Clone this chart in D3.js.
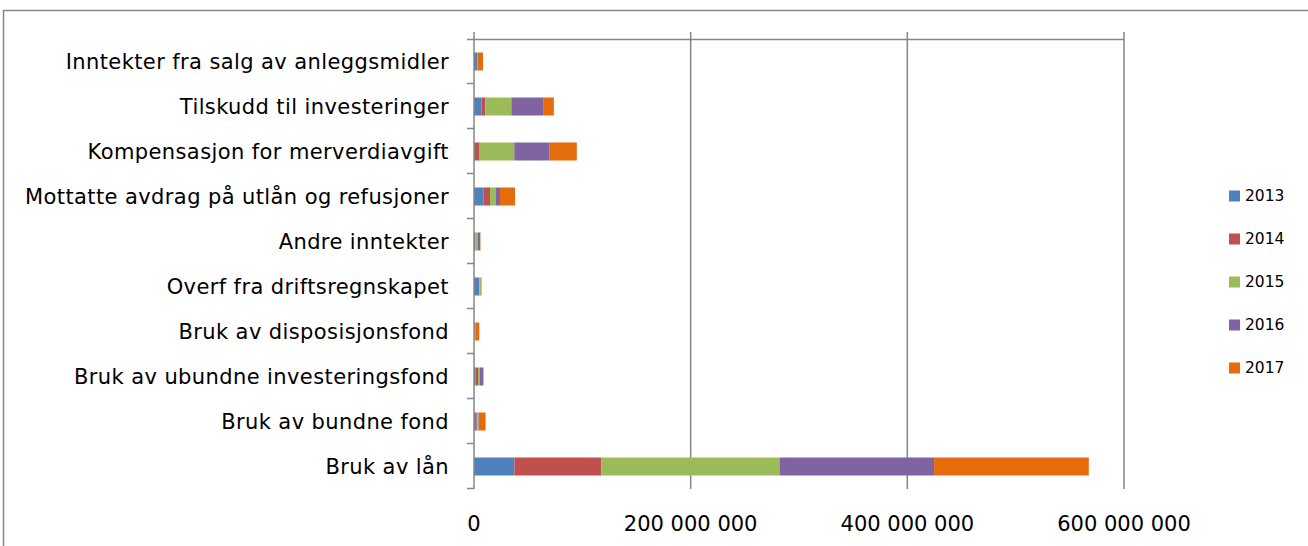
<!DOCTYPE html>
<html><head><meta charset="utf-8">
<script src="https://cdn.jsdelivr.net/npm/d3@7"></script>
<style>body{margin:0;background:#fff}svg{display:block}</style>
</head><body>
<script>
const categories = ["Inntekter fra salg av anleggsmidler","Tilskudd til investeringer","Kompensasjon for merverdiavgift","Mottatte avdrag på utlån og refusjoner","Andre inntekter","Overf fra driftsregnskapet","Bruk av disposisjonsfond","Bruk av ubundne investeringsfond","Bruk av bundne fond","Bruk av lån"];
const years = ["2013","2014","2015","2016","2017"];
const v2013 = [2800000, 6800000, 300000, 8600000, 1200000, 4600000, 300000, 1500000, 2200000, 37300000];
const v2014 = [300000, 3700000, 4900000, 6200000, 300000, 300000, 300000, 2200000, 1000000, 80100000];
const v2015 = [300000, 24000000, 32000000, 5200000, 2200000, 1500000, 300000, 1800000, 1000000, 164600000];
const v2016 = [300000, 29300000, 32700000, 4000000, 2000000, 300000, 300000, 3000000, 300000, 142700000];
const v2017 = [4600000, 9900000, 25000000, 13900000, 300000, 300000, 3700000, 300000, 6200000, 142800000];
const tickValues = [0, 200000000, 400000000, 600000000];
const colors = ["#4F81BD","#C0504D","#9BBB59","#8064A2","#E46C0A"];

const W = 1308, H = 546;
const svg = d3.select("body").append("svg").attr("width", W).attr("height", H);
const font = "'DejaVu Sans', sans-serif";

// outer border
svg.append("rect").attr("x",3.5).attr("y",10.5).attr("width",W+10).attr("height",H+10)
  .attr("fill","none").attr("stroke","#868686").attr("stroke-width",1.5);

const x = d3.scaleLinear().domain([0, 600000000]).range([474, 1124]);
const y = d3.scaleBand().domain(categories).range([39, 489]).paddingInner(0.6).paddingOuter(0.3);
const yb = d3.scaleBand().domain(categories).range([39, 489]);

const seriesVals = [v2013, v2014, v2015, v2016, v2017];
const rows = categories.map((c,i)=>{const o={cat:c}; years.forEach((yr,j)=>o[yr]=seriesVals[j][i]); return o;});
const stacked = d3.stack().keys(years)(rows);

// gridlines
const grid = svg.append("g");
tickValues.slice(1).forEach(t=>{
  grid.append("line").attr("x1",x(t)).attr("x2",x(t)).attr("y1",32).attr("y2",489)
    .attr("stroke","#868686").attr("stroke-width",1.5);
});

// top value axis line with ticks
svg.append("line").attr("x1",467).attr("x2",x(600000000)).attr("y1",39.5).attr("y2",39.5)
  .attr("stroke","#868686").attr("stroke-width",1.5);
svg.append("line").attr("x1",x(0)).attr("x2",x(0)).attr("y1",32).attr("y2",39.5)
  .attr("stroke","#868686").attr("stroke-width",1.5);

// bars
stacked.forEach((s,j)=>{
  svg.append("g").selectAll("rect").data(s).join("rect")
    .attr("x",d=>x(d[0])).attr("width",d=>Math.max(0,x(d[1])-x(d[0])))
    .attr("y",d=>y(d.data.cat)).attr("height",y.bandwidth())
    .attr("fill",colors[j]);
});

// category axis
const yAxis = svg.append("g");
yAxis.append("line").attr("x1",x(0)).attr("x2",x(0)).attr("y1",39).attr("y2",489)
  .attr("stroke","#868686").attr("stroke-width",1.5);
const bounds = categories.map(c=>yb(c)).concat([489]);
bounds.slice(1).forEach(b=>{
  yAxis.append("line").attr("x1",467).attr("x2",x(0)).attr("y1",b-0.5).attr("y2",b-0.5)
    .attr("stroke","#868686").attr("stroke-width",1.5);
});
yAxis.selectAll("text").data(categories).join("text")
  .attr("x",449).attr("y",d=>yb(d)+yb.bandwidth()/2).attr("dy","0.35em")
  .attr("text-anchor","end").attr("font-family",font).attr("font-size",21)
  .attr("letter-spacing","0.4px").attr("fill","#000")
  .text(d=>d);

// value tick labels (bottom)
svg.append("g").selectAll("text").data(tickValues).join("text")
  .attr("x",d=>x(d)).attr("y",524).attr("dy","0.35em").attr("text-anchor","middle")
  .attr("font-family",font).attr("font-size",21).attr("fill","#000")
  .text(d=>d3.format(",")(d).replace(/,/g," "));

// legend
const lg = svg.append("g");
years.forEach((yr,j)=>{
  const cy = 196 + j*43;
  lg.append("rect").attr("x",1229).attr("y",cy-5.5).attr("width",11).attr("height",11).attr("fill",colors[j]);
  lg.append("text").attr("x",1245).attr("y",cy).attr("dy","0.35em")
    .attr("font-family",font).attr("font-size",15.5).attr("fill","#000").text(yr);
});
</script>
</body></html>
